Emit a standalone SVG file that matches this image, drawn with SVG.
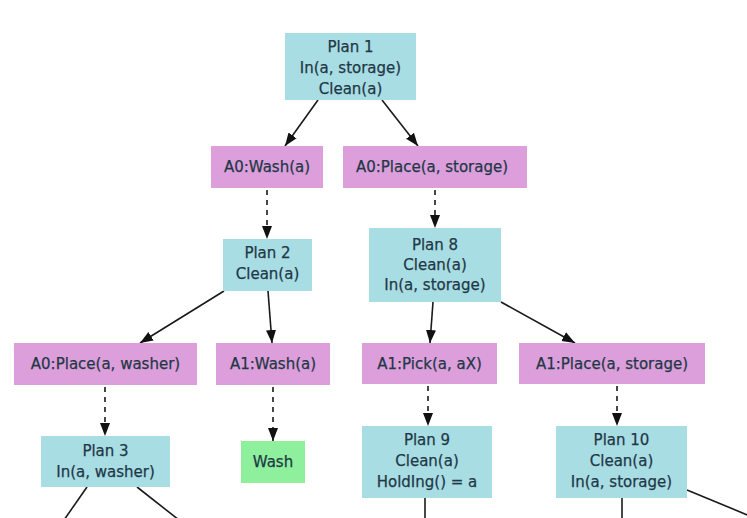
<svg xmlns="http://www.w3.org/2000/svg" width="747" height="518" viewBox="0 0 747 518">
  <style>
    .plan { fill: #a9dde4; }
    .act { fill: #dc9fdb; }
    .goal { fill: #8ef09c; }
    text { font-family: "DejaVu Sans", Verdana, sans-serif; font-size: 15px; fill: #1f3846; stroke: #1f3846; stroke-width: 0.25; text-anchor: middle; }
    .edge { stroke: #1a1a1a; stroke-width: 1.6; fill: none; }
    .dash { stroke-dasharray: 5 5; }
  </style>
  <defs>
    <marker id="arrow" markerUnits="userSpaceOnUse" markerWidth="13" markerHeight="13" viewBox="0 0 13 13" refX="13" refY="6.5" orient="auto">
      <path d="M0,1.5 L13,6.5 L0,11.5 Z" fill="#111"/>
    </marker>
  </defs>
  <rect width="747" height="518" fill="#ffffff"/>

  <g id="edges">
    <line class="edge" x1="318" y1="100" x2="285" y2="146" marker-end="url(#arrow)"/>
    <line class="edge" x1="382" y1="100" x2="418" y2="146" marker-end="url(#arrow)"/>
    <line class="edge dash" x1="267" y1="190" x2="267" y2="239" marker-end="url(#arrow)"/>
    <line class="edge dash" x1="435" y1="190" x2="435" y2="228" marker-end="url(#arrow)"/>
    <line class="edge" x1="224" y1="291" x2="140" y2="343" marker-end="url(#arrow)"/>
    <line class="edge" x1="268" y1="291" x2="272" y2="343" marker-end="url(#arrow)"/>
    <line class="edge" x1="433" y1="302" x2="430" y2="343" marker-end="url(#arrow)"/>
    <line class="edge" x1="501" y1="302" x2="575" y2="343" marker-end="url(#arrow)"/>
    <line class="edge dash" x1="105" y1="387" x2="105" y2="436" marker-end="url(#arrow)"/>
    <line class="edge dash" x1="273" y1="387" x2="273" y2="441" marker-end="url(#arrow)"/>
    <line class="edge dash" x1="428" y1="386" x2="428" y2="426" marker-end="url(#arrow)"/>
    <line class="edge dash" x1="617" y1="386" x2="617" y2="426" marker-end="url(#arrow)"/>
    <line class="edge" x1="87" y1="487" x2="64" y2="520"/>
    <line class="edge" x1="137" y1="487" x2="179" y2="520"/>
    <line class="edge" x1="425" y1="498" x2="425" y2="520"/>
    <line class="edge" x1="622" y1="498" x2="622" y2="520"/>
    <line class="edge" x1="687" y1="490" x2="750" y2="516"/>
  </g>

  <g id="plan1">
    <rect class="plan" x="285" y="33" width="131" height="67"/>
    <text x="350.5" y="52">Plan 1</text>
    <text x="350.5" y="73">In(a, storage)</text>
    <text x="350.5" y="94">Clean(a)</text>
  </g>
  <g id="a0-wash">
    <rect class="act" x="211" y="146" width="112" height="42"/>
    <text x="267" y="172">A0:Wash(a)</text>
  </g>
  <g id="a0-place-storage">
    <rect class="act" x="343" y="146" width="184" height="42"/>
    <text x="432" y="172">A0:Place(a, storage)</text>
  </g>
  <g id="plan2">
    <rect class="plan" x="223" y="239" width="89" height="52"/>
    <text x="267.5" y="258">Plan 2</text>
    <text x="267.5" y="279">Clean(a)</text>
  </g>
  <g id="plan8">
    <rect class="plan" x="369" y="228" width="132" height="74"/>
    <text x="435" y="250">Plan 8</text>
    <text x="435" y="270">Clean(a)</text>
    <text x="435" y="290">In(a, storage)</text>
  </g>
  <g id="a0-place-washer">
    <rect class="act" x="14" y="343" width="183" height="42"/>
    <text x="105.5" y="369">A0:Place(a, washer)</text>
  </g>
  <g id="a1-wash">
    <rect class="act" x="216" y="343" width="114" height="42"/>
    <text x="273" y="369">A1:Wash(a)</text>
  </g>
  <g id="a1-pick">
    <rect class="act" x="362" y="343" width="135" height="41"/>
    <text x="429.5" y="369">A1:Pick(a, aX)</text>
  </g>
  <g id="a1-place-storage">
    <rect class="act" x="519" y="343" width="186" height="41"/>
    <text x="612" y="369">A1:Place(a, storage)</text>
  </g>
  <g id="plan3">
    <rect class="plan" x="41" y="436" width="129" height="51"/>
    <text x="105.5" y="456">Plan 3</text>
    <text x="105.5" y="477">In(a, washer)</text>
  </g>
  <g id="wash">
    <rect class="goal" x="241" y="441" width="64" height="42"/>
    <text x="273" y="467">Wash</text>
  </g>
  <g id="plan9">
    <rect class="plan" x="362" y="426" width="130" height="72"/>
    <text x="427" y="445">Plan 9</text>
    <text x="427" y="466">Clean(a)</text>
    <text x="427" y="487">HoldIng() = a</text>
  </g>
  <g id="plan10">
    <rect class="plan" x="556" y="426" width="131" height="72"/>
    <text x="621.5" y="445">Plan 10</text>
    <text x="621.5" y="466">Clean(a)</text>
    <text x="621.5" y="487">In(a, storage)</text>
  </g>
</svg>
